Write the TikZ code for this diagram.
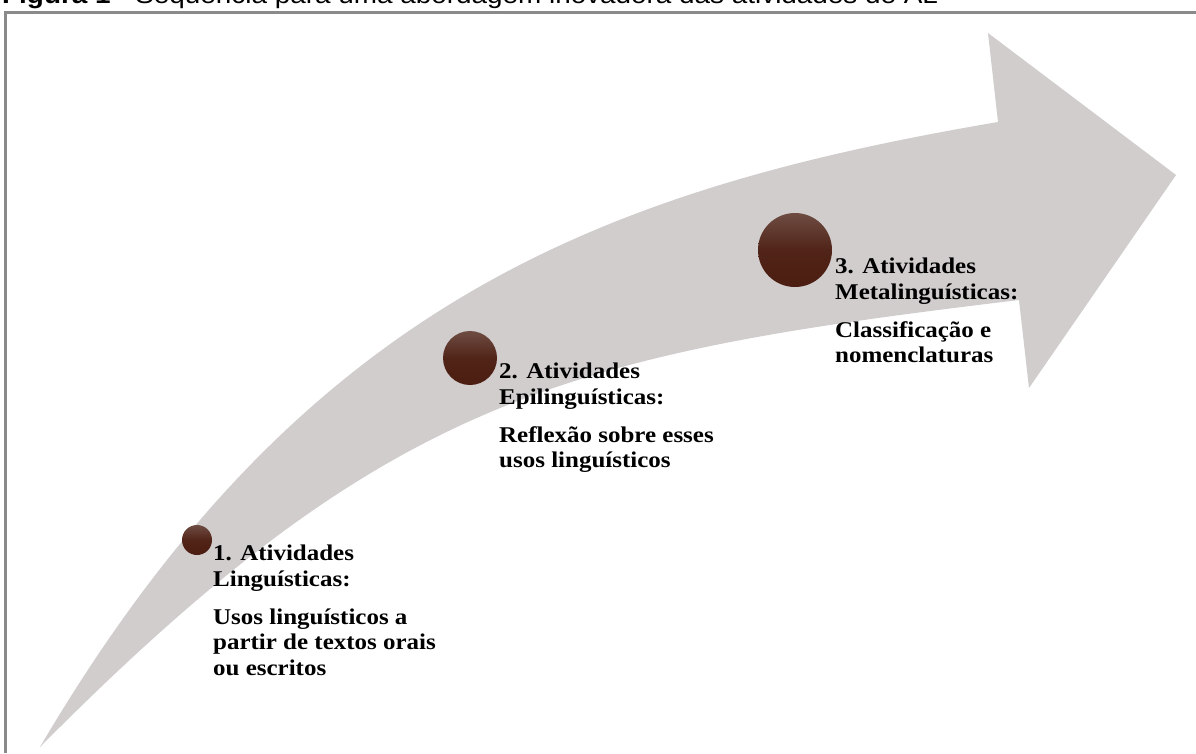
\documentclass[tikz,border=0pt]{standalone}
\usepackage{fontspec}
\setmainfont{Liberation Serif}[FakeStretch=1.11]
\newfontfamily\capfont{Liberation Sans}[FakeStretch=1.115]
\definecolor{arrowc}{RGB}{208,205,204}
\definecolor{framec}{RGB}{138,138,138}
\definecolor{dottop}{RGB}{110,76,66}
\definecolor{dotbot}{RGB}{76,29,17}
\tikzset{
  brownball/.style={circle, inner sep=0pt, top color=dottop, bottom color=dotbot, middle color=dotbot!85!dottop, draw=none},
  steptext/.style={anchor=north west, inner sep=0pt, align=left,
    font=\fontsize{22.5}{25.5}\selectfont\bfseries},
  captiontext/.style={anchor=base west, inner sep=0pt, font=\capfont\fontsize{25}{28}\selectfont}
}
\begin{document}
\begin{tikzpicture}[x=1pt, y=-1pt]
\clip (0,0) rectangle (1196,753);
\fill[white] (0,0) rectangle (1196,753);
% caption (cropped at the top)
\node[captiontext] (caption) at (2,3.5) {\textbf{Figura 1} - Sequência para uma abordagem inovadora das atividades de AL};
% frame
\draw[framec, line width=3pt] (5.5,753) -- (5.5,12.5) -- (1196,12.5);
% curved arrow
\coordinate (tail) at (40,747);
\coordinate (neckTop) at (998,122);
\coordinate (barbTop) at (988,33);
\coordinate (tip) at (1176,175);
\coordinate (barbBot) at (1029,388);
\coordinate (neckBot) at (1019,300);
\fill[arrowc] (tail) .. controls (300,305) and (598,190) .. (neckTop)
  -- (barbTop) -- (tip) -- (barbBot) -- (neckBot)
  .. controls (569,354) and (390,394) .. (tail) -- cycle;
% dots
\node[brownball, minimum size=30pt] (c1) at (197,540) {};
\node[brownball, minimum size=54pt] (c2) at (470,358) {};
\node[brownball, minimum size=74pt] (c3) at (795,250) {};
% labels
\node[steptext] (t1) at (213,545) {1. Atividades\\Linguísticas:\\[12.5pt]Usos linguísticos a\\partir de textos orais\\ou escritos};
\node[steptext] (t2) at (499,363) {2. Atividades\\Epilinguísticas:\\[12.5pt]Reflexão sobre esses\\usos linguísticos};
\node[steptext] (t3) at (835,258) {3. Atividades\\Metalinguísticas:\\[12.5pt]Classificação e\\nomenclaturas};
\end{tikzpicture}
\end{document}
